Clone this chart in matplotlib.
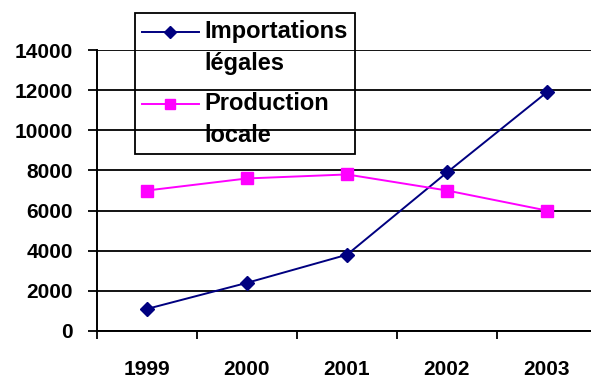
import numpy as np
import matplotlib
matplotlib.use("Agg")
import matplotlib.pyplot as plt
from matplotlib.legend_handler import HandlerLine2D

# donnees
annees = ["1999", "2000", "2001", "2002", "2003"]
importations = [1100, 2400, 3800, 7900, 11900]
production = [7000, 7600, 7800, 7000, 6000]
y_ticks = [0, 2000, 4000, 6000, 8000, 10000, 12000, 14000]

plt.rcParams["font.family"] = ["Liberation Sans", "DejaVu Sans"]
plt.rcParams["font.weight"] = "bold"


# symbole de legende aligne sur la premiere ligne du texte (style Excel)
class HandlerHaut(HandlerLine2D):
    def create_artists(self, legend, orig_handle, xdescent, ydescent,
                       width, height, fontsize, trans):
        arts = super().create_artists(legend, orig_handle, xdescent, ydescent,
                                      width, height, fontsize, trans)
        for a in arts:
            a.set_ydata(np.asarray(a.get_ydata()) + 0.68 * fontsize)
        return arts


fig = plt.figure(figsize=(5.91, 3.79), dpi=100)
ax = fig.add_axes([97 / 591, 1 - 331 / 379, 500 / 591, 281 / 379])

x = np.arange(len(annees))
l1, = ax.plot(x, importations, color="#000080", lw=1.4, marker="D", ms=7.5,
              label="Importations\nlégales", zorder=3)
l2, = ax.plot(x, production, color="#FF00FF", lw=1.4, marker="s", ms=9,
              label="Production\nlocale", zorder=3)

ax.set_xlim(-0.5, len(annees) - 0.5)
ax.set_ylim(0, 14000)
ax.set_yticks(y_ticks)
ax.set_yticklabels([str(v) for v in y_ticks], fontsize=15, fontweight="bold")
ax.yaxis.grid(True, color="black", lw=1.3)
ax.set_axisbelow(True)

ax.set_xticks(x)
ax.set_xticklabels(annees, fontsize=15, fontweight="bold")
ax.set_xticks(np.arange(-0.5, len(annees)), minor=True)
ax.tick_params(axis="x", which="major", length=0, pad=21)
ax.tick_params(axis="x", which="minor", length=6, width=1.3, direction="out")
ax.tick_params(axis="y", length=6.5, width=1.3, pad=11)

for s in ["top", "right"]:
    ax.spines[s].set_visible(False)
for s in ["left", "bottom"]:
    ax.spines[s].set_linewidth(1.4)
    ax.spines[s].set_color("black")

leg = ax.legend(loc="upper left", bbox_to_anchor=(135 / 591, 1 - 13 / 379),
                bbox_transform=fig.transFigure, borderaxespad=0,
                fancybox=False, edgecolor="black", framealpha=1,
                prop={"size": 17, "weight": "bold"}, handlelength=2.4,
                handletextpad=0.25, labelspacing=0.7, borderpad=0.3,
                markerscale=0.85,
                handler_map={l1: HandlerHaut(), l2: HandlerHaut()})
leg.get_frame().set_facecolor("none")
leg.get_frame().set_linewidth(1.3)
for t in leg.get_texts():
    t.set_linespacing(1.52)

fig.savefig("out.png", dpi=100)
